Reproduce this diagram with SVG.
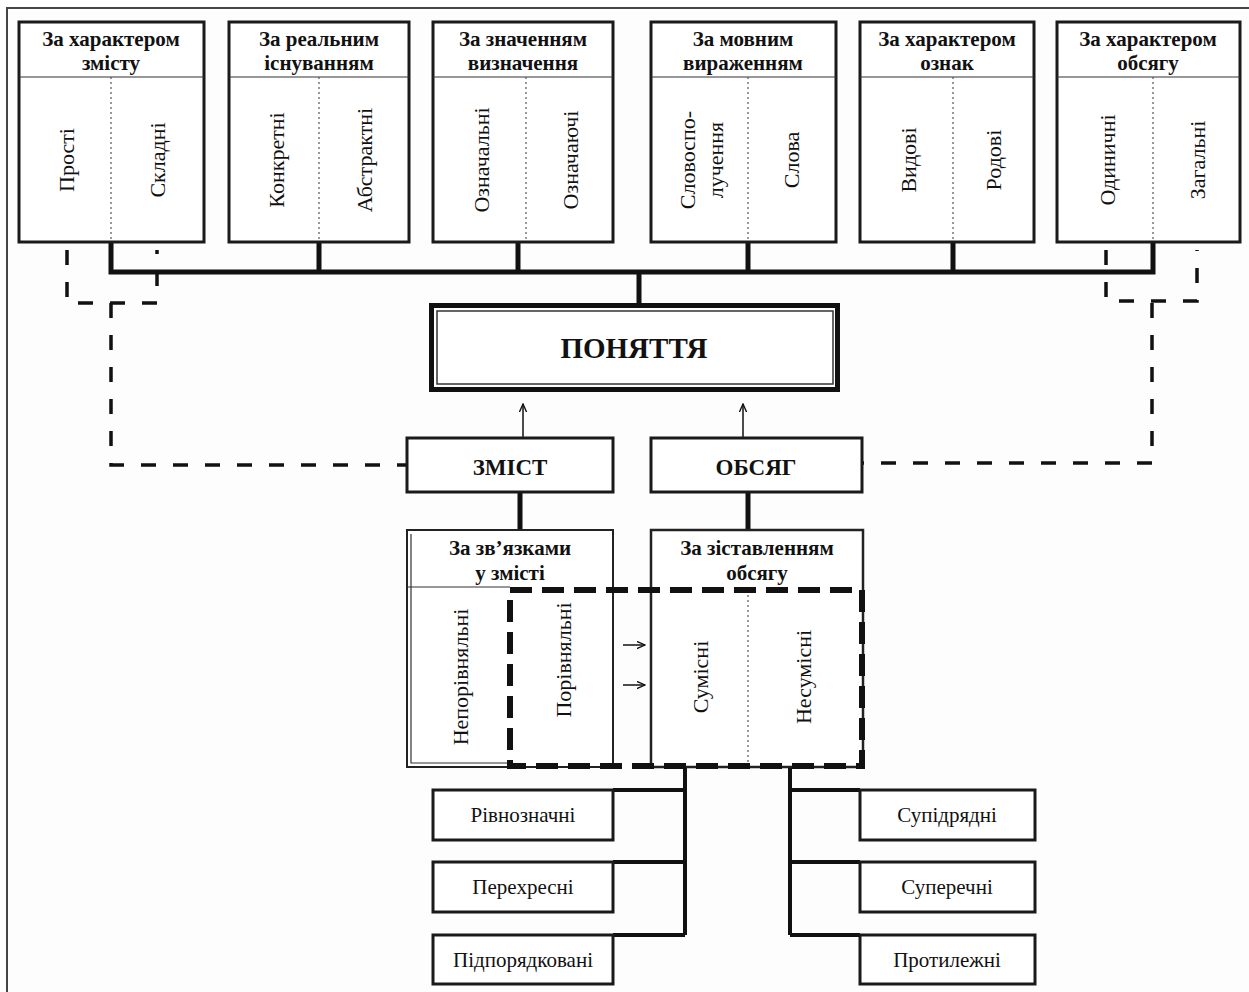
<svg xmlns="http://www.w3.org/2000/svg" width="1249" height="992" viewBox="0 0 1249 992">
<defs>
<style>
text{font-family:"Liberation Serif","Times New Roman",serif;fill:#111;}
.hd{font-size:21px;font-weight:bold;text-anchor:middle;}
.vt{font-size:22px;text-anchor:middle;dominant-baseline:central;}
.bt{font-size:21px;text-anchor:middle;}
.box{fill:#fff;stroke:#1a1a1a;stroke-width:3;}
.thin{stroke:#333;stroke-width:1.2;fill:none;}
.dot{stroke:#555;stroke-width:1.2;stroke-dasharray:2 3;fill:none;}
.bus{stroke:#111;stroke-width:5;fill:none;}
.dash{stroke:#111;stroke-width:3.5;stroke-dasharray:15 17;fill:none;}
.arr{stroke:#111;stroke-width:1.5;fill:none;}
</style>
<marker id="ah" viewBox="0 0 10 10" refX="9" refY="5" markerWidth="9" markerHeight="9" markerUnits="userSpaceOnUse" orient="auto">
<path d="M0,1 L9,5 L0,9" fill="none" stroke="#111" stroke-width="1.5"/>
</marker>
</defs>
<rect x="0" y="0" width="1249" height="992" fill="#fdfdfd"/>
<rect x="7" y="8" width="1270" height="1010" fill="none" stroke="#444" stroke-width="2"/>

<g id="connectors">
<path class="bus" d="M111,242 V272 H1153 V242 M319,242 V272 M518,242 V272 M748,242 V272 M953,242 V272 M639,272 V303"/>
<path class="dash" d="M67,250 V303 H157 V250"/>
<path class="dash" d="M111,303 V465 H407"/>
<path class="dash" d="M1106,250 V301 H1197 V250"/>
<path class="dash" d="M1152,303 V463 H863"/>
<path class="arr" d="M523,437 V404" marker-end="url(#ah)"/>
<path class="arr" d="M743,437 V404" marker-end="url(#ah)"/>
<path class="bus" d="M520,492 V530 M748,492 V530"/>
<path class="arr" d="M623,645 H645" marker-end="url(#ah)"/>
<path class="arr" d="M623,685 H645" marker-end="url(#ah)"/>
<path class="bus" style="stroke-width:4" d="M685,767 V935 M613,790 H685 M613,862 H685 M613,935 H685"/>
<path class="bus" style="stroke-width:4" d="M790,767 V935 M790,790 H860 M790,862 H860 M790,935 H860"/>
</g>

<g id="n-zmist-char">
<rect class="box" x="19" y="22" width="185" height="220"/>
<line class="thin" x1="19" y1="77" x2="204" y2="77"/>
<line class="dot" x1="111" y1="77" x2="111" y2="242"/>
<text class="hd" x="111" y="46">За характером</text>
<text class="hd" x="111" y="70">змісту</text>
<text class="vt" transform="translate(66,160) rotate(-90)">Прості</text>
<text class="vt" transform="translate(157,160) rotate(-90)">Складні</text>
</g>

<g id="n-real">
<rect class="box" x="229" y="22" width="180" height="220"/>
<line class="thin" x1="229" y1="77" x2="409" y2="77"/>
<line class="dot" x1="319" y1="77" x2="319" y2="242"/>
<text class="hd" x="319" y="46">За реальним</text>
<text class="hd" x="319" y="70">існуванням</text>
<text class="vt" transform="translate(276,160) rotate(-90)">Конкретні</text>
<text class="vt" transform="translate(364,160) rotate(-90)">Абстрактні</text>
</g>

<g id="n-znach">
<rect class="box" x="433" y="22" width="180" height="220"/>
<line class="thin" x1="433" y1="77" x2="613" y2="77"/>
<line class="dot" x1="526" y1="77" x2="526" y2="242"/>
<text class="hd" x="523" y="46">За значенням</text>
<text class="hd" x="523" y="70">визначення</text>
<text class="vt" transform="translate(481,160) rotate(-90)">Означальні</text>
<text class="vt" transform="translate(570,160) rotate(-90)">Означаючі</text>
</g>

<g id="n-movn">
<rect class="box" x="651" y="22" width="185" height="220"/>
<line class="thin" x1="651" y1="77" x2="836" y2="77"/>
<line class="dot" x1="748" y1="77" x2="748" y2="242"/>
<text class="hd" x="743" y="46">За мовним</text>
<text class="hd" x="743" y="70">вираженням</text>
<text class="vt" transform="translate(687,160) rotate(-90)">Словоспо-</text>
<text class="vt" transform="translate(715,160) rotate(-90)">лучення</text>
<text class="vt" transform="translate(791,160) rotate(-90)">Слова</text>
</g>

<g id="n-oznak">
<rect class="box" x="860" y="22" width="174" height="220"/>
<line class="thin" x1="860" y1="77" x2="1034" y2="77"/>
<line class="dot" x1="953" y1="77" x2="953" y2="242"/>
<text class="hd" x="947" y="46">За характером</text>
<text class="hd" x="947" y="70">ознак</text>
<text class="vt" transform="translate(908,160) rotate(-90)">Видові</text>
<text class="vt" transform="translate(993,160) rotate(-90)">Родові</text>
</g>

<g id="n-obsyag-char">
<rect class="box" x="1057" y="22" width="183" height="220"/>
<line class="thin" x1="1057" y1="77" x2="1240" y2="77"/>
<line class="dot" x1="1153" y1="77" x2="1153" y2="242"/>
<text class="hd" x="1148" y="46">За характером</text>
<text class="hd" x="1148" y="70">обсягу</text>
<text class="vt" transform="translate(1107,160) rotate(-90)">Одиничні</text>
<text class="vt" transform="translate(1197,160) rotate(-90)">Загальні</text>
</g>

<g id="n-ponyattya">
<rect x="431.5" y="305.5" width="406" height="84" fill="#fff" stroke="#111" stroke-width="5"/>
<rect x="437" y="311" width="396" height="73" fill="none" stroke="#333" stroke-width="1.5"/>
<text x="634" y="358" style="font-size:29px;font-weight:bold;text-anchor:middle">ПОНЯТТЯ</text>
</g>

<g id="n-zmist">
<rect class="box" x="407" y="438" width="206" height="54"/>
<text x="510" y="475" style="font-size:23px;font-weight:bold;text-anchor:middle">ЗМІСТ</text>
</g>

<g id="n-obsyag">
<rect class="box" x="651" y="438" width="211" height="54"/>
<text x="756" y="475" style="font-size:23px;font-weight:bold;text-anchor:middle">ОБСЯГ</text>
</g>

<g id="n-zvyazky">
<rect x="407" y="530" width="206" height="237" fill="#fff" stroke="#222" stroke-width="2"/>
<path class="thin" d="M411,534 V763 H510"/>
<line class="thin" x1="407" y1="587" x2="510" y2="587"/>
<text class="hd" x="510" y="555">За зв’язками</text>
<text class="hd" x="510" y="580">у змісті</text>
<text class="vt" transform="translate(460,677) rotate(-90)">Непорівняльні</text>
<text class="vt" transform="translate(563,660) rotate(-90)">Порівняльні</text>
</g>

<g id="n-zistavl">
<rect x="651" y="530" width="212" height="237" fill="#fff" stroke="#222" stroke-width="2.5"/>
<line class="dot" x1="748" y1="590" x2="748" y2="766"/>
<text class="hd" x="757" y="555">За зіставленням</text>
<text class="hd" x="757" y="580">обсягу</text>
<text class="vt" transform="translate(700,677) rotate(-90)">Сумісні</text>
<text class="vt" transform="translate(803,677) rotate(-90)">Несумісні</text>
</g>

<g id="n-group">
<rect x="510" y="590" width="352" height="176" fill="none" stroke="#111" stroke-width="6" stroke-dasharray="22 10"/>
</g>

<g id="n-rivn"><rect class="box" x="433" y="790" width="180" height="50"/><text class="bt" x="523" y="822">Рівнозначні</text></g>
<g id="n-perekh"><rect class="box" x="433" y="862" width="180" height="50"/><text class="bt" x="523" y="894">Перехресні</text></g>
<g id="n-pidp"><rect class="box" x="433" y="935" width="180" height="49"/><text class="bt" x="523" y="967">Підпорядковані</text></g>
<g id="n-supidr"><rect class="box" x="860" y="790" width="175" height="50"/><text class="bt" x="947" y="822">Супідрядні</text></g>
<g id="n-superech"><rect class="box" x="860" y="862" width="175" height="50"/><text class="bt" x="947" y="894">Суперечні</text></g>
<g id="n-protyl"><rect class="box" x="860" y="935" width="175" height="49"/><text class="bt" x="947" y="967">Протилежні</text></g>
</svg>
